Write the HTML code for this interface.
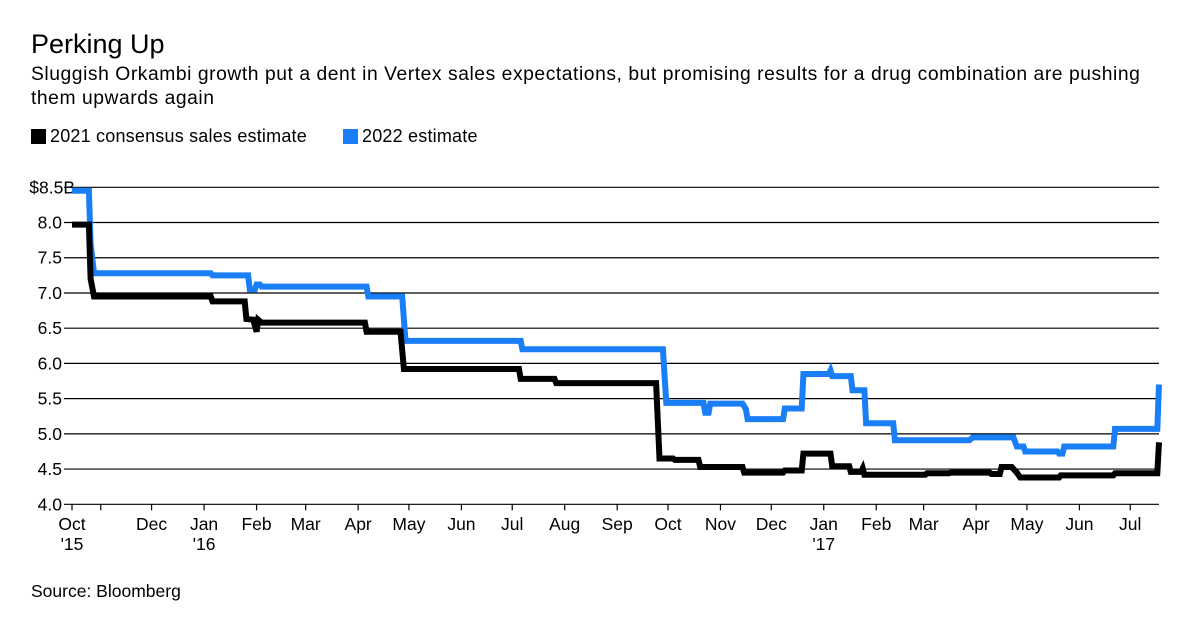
<!DOCTYPE html>
<html><head><meta charset="utf-8"><style>
body{margin:0;background:#fff;font-family:"Liberation Sans",Arial,sans-serif;color:#000;}
#wrap{position:relative;width:1200px;height:635px;overflow:hidden;}
.t{position:absolute;white-space:nowrap;}
</style></head><body>
<div id="wrap">
<div class="t" style="left:31px;top:29px;font-size:27px;">Perking Up</div>
<div class="t" style="left:31px;top:63px;font-size:19.3px;line-height:24px;letter-spacing:0.55px;">Sluggish Orkambi growth put a dent in Vertex sales expectations, but promising results for a drug combination are pushing<br>them upwards again</div>
<div class="t" style="left:31px;top:126px;font-size:18px;letter-spacing:0.2px;"><span style="display:inline-block;width:15px;height:15px;background:#000;vertical-align:-2px;margin-right:4px"></span>2021 consensus sales estimate</div>
<div class="t" style="left:343px;top:126px;font-size:18px;letter-spacing:0.2px;"><span style="display:inline-block;width:15px;height:15px;background:#1a7ff7;vertical-align:-2px;margin-right:4px"></span>2022 estimate</div>
<div class="t" style="left:31px;top:581px;font-size:17.5px;">Source: Bloomberg</div>
<svg id="chart" width="1200" height="635" style="position:absolute;left:0;top:0"></svg>
</div>
<script>
const yTicks=[4.0,4.5,5.0,5.5,6.0,6.5,7.0,7.5,8.0,8.5];
const yTickLabels=["4.0","4.5","5.0","5.5","6.0","6.5","7.0","7.5","8.0","$8.5B"];
const xTickDays=[0,17,47,78,109,138,169,199,230,260,291,322,352,383,413,444,475,503,534,564,595,625];
const xTickLabels=["Oct","","Dec","Jan","Feb","Mar","Apr","May","Jun","Jul","Aug","Sep","Oct","Nov","Dec","Jan","Feb","Mar","Apr","May","Jun","Jul"];
const xTickYears={0:"'15",78:"'16",444:"'17"};
// step series: [day since Oct 15 2015, value]
const black2021=[[0,7.97],[10,7.97],[11,7.2],[13,6.95],[82,6.95],[83,6.88],[102,6.88],[103,6.63],[107,6.62],[109,6.45],[110,6.62],[112,6.58],[173,6.58],[174,6.45],[194,6.45],[196,5.92],[264,5.92],[265,5.78],[285,5.78],[286,5.72],[345,5.72],[347,4.65],[355,4.65],[356,4.63],[370,4.63],[371,4.53],[396,4.53],[397,4.45],[420,4.45],[421,4.48],[431,4.48],[432,4.72],[448,4.72],[449,4.54],[459,4.54],[460,4.46],[466,4.46],[467,4.51],[468,4.42],[504,4.42],[505,4.44],[518,4.44],[519,4.45],[542,4.45],[543,4.43],[548,4.43],[549,4.53],[555,4.53],[558,4.45],[560,4.38],[583,4.38],[584,4.41],[615,4.41],[616,4.44],[641,4.44],[642,4.88]];
const blue2022=[[0,8.45],[10,8.45],[11,7.7],[13,7.28],[82,7.28],[83,7.25],[104,7.25],[105,7.05],[108,7.05],[109,7.12],[111,7.12],[112,7.09],[174,7.09],[175,6.95],[195,6.95],[197,6.32],[265,6.32],[266,6.2],[349,6.2],[351,5.44],[373,5.44],[374,5.3],[376,5.3],[377,5.43],[396,5.43],[398,5.35],[399,5.21],[420,5.21],[421,5.36],[431,5.36],[432,5.85],[447,5.85],[448,5.9],[449,5.82],[460,5.82],[461,5.62],[468,5.62],[469,5.15],[485,5.15],[486,4.91],[530,4.91],[532,4.95],[556,4.95],[558,4.82],[562,4.82],[563,4.75],[582,4.75],[583,4.72],[585,4.72],[586,4.82],[615,4.82],[616,5.07],[641,5.07],[642,5.7]];
const X0=72,X1=1159,DMAX=642,Y0=504.3,Y1=187.3;
const xs=d=>X0+d*(X1-X0)/DMAX;
const ys=v=>Y0-(v-4)*(Y0-Y1)/4.5;
const svg=document.getElementById('chart');
const NS='http://www.w3.org/2000/svg';
function mk(t,a){const e=document.createElementNS(NS,t);for(const k in a)e.setAttribute(k,a[k]);svg.appendChild(e);return e;}
yTicks.forEach((v,i)=>{
 const l=mk('line',{x1:X0-8,x2:X1,y1:ys(v),y2:ys(v),stroke:'#000','stroke-width':1.2});
 
 
 const t=mk('text',{x:i==yTicks.length-1?75:62,y:ys(v)+6,'text-anchor':'end','font-size':17.5,'font-family':'Liberation Sans, Arial, sans-serif'});
 t.textContent=yTickLabels[i];
 
 
});
xTickDays.forEach((d,i)=>{
 const tk=mk('line',{x1:xs(d),x2:xs(d),y1:Y0,y2:Y0+6,stroke:'#000','stroke-width':1.2});
 
 
 const t=mk('text',{x:xs(d),y:530,'text-anchor':'middle','font-size':17.5,'font-family':'Liberation Sans, Arial, sans-serif'});
 t.textContent=xTickLabels[i];
 
 
 if(xTickYears[d]){const y=mk('text',{x:xs(d),y:550,'text-anchor':'middle','font-size':17.5,'font-family':'Liberation Sans, Arial, sans-serif'});y.textContent=xTickYears[d];
 
 }
});
function path(data){return data.map((p,i)=>(i?'L':'M')+xs(p[0]).toFixed(1)+','+ys(p[1]).toFixed(1)).join('');}
const pb=mk('path',{d:path(blue2022),fill:'none',stroke:'#1a7ff7','stroke-width':6,'stroke-linejoin':'miter'});


const pk=mk('path',{d:path(black2021),fill:'none',stroke:'#000','stroke-width':6,'stroke-linejoin':'miter'});


</script>
</body></html>
